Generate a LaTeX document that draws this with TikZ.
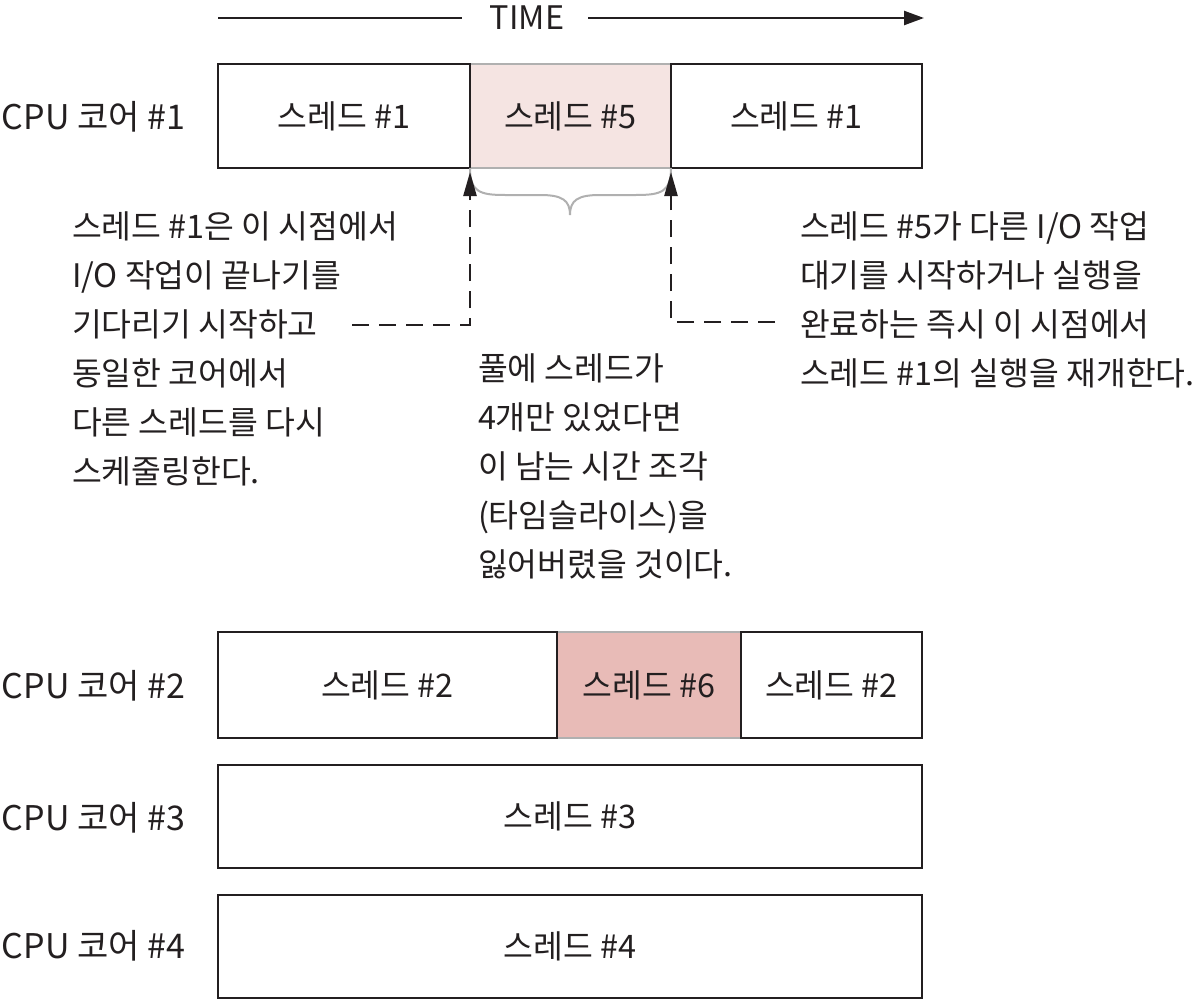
\documentclass[tikz,border=0pt]{standalone}
\usepackage{fontspec}
\setmainfont{Noto Sans CJK KR}
\usetikzlibrary{arrows.meta}
\definecolor{ink}{HTML}{231F20}
\definecolor{pinkA}{HTML}{F5E4E2}
\definecolor{pinkB}{HTML}{E8BBB7}
\definecolor{edgegray}{HTML}{B0B0B0}
\tikzset{
  every node/.style={text=ink, font=\fontsize{16.2pt}{24.5pt}\selectfont, inner sep=0pt, outer sep=0pt},
  blk/.style={draw=ink, line width=1.4pt, fill=white},
  gblk/.style={draw=edgegray, line width=1pt},
  note/.style={align=left, anchor=north west},
  rowlab/.style={anchor=west, font=\fontsize{17pt}{20pt}\selectfont},
  dasharrow/.style={draw=ink, line width=1.2pt, dash pattern=on 8.5pt off 5pt, -{Triangle[length=12pt,width=6.5pt]}},
  timearrow/.style={draw=ink, line width=1.2pt},
}
\begin{document}
\begin{tikzpicture}[x=0.5pt,y=-0.5pt]
\useasboundingbox (0,0) rectangle (1200,1001);
% TIME axis
\node (time) at (527,18) {TIME};
\coordinate (tstart) at (218,18);
\coordinate (tend) at (924,18);
\draw[timearrow] (tstart) -- ([xshift=-14pt]time.west);
\draw[timearrow, -{Triangle[length=10pt,width=7pt]}] ([xshift=12pt]time.east) -- (tend);
% row 1
\node[rowlab] (c1) at (2,117) {CPU 코어 \#1};
\node[gblk, fill=pinkA, minimum width=100.5pt, minimum height=52pt] (t5) at (570.5,116) {스레드 \#5};
\node[blk, minimum width=126pt, minimum height=52pt] (t1a) at (344,116) {스레드 \#1};
\node[blk, minimum width=125.5pt, minimum height=52pt] (t1b) at (796.5,116) {스레드 \#1};
% brace
\draw[edgegray, line width=1pt] (t5.south west) .. controls (470,192) and (480,195) .. (505,195) -- (540,195) .. controls (562,195) and (570,200) .. (570,215)
  .. controls (570,200) and (578,195) .. (600,195) -- (636,195) .. controls (661,195) and (671,192) .. (t5.south east);
% notes
\node[note] (nl) at (72,212) {스레드 \#1은 이 시점에서\\I/O 작업이 끝나기를\\기다리기 시작하고\\동일한 코어에서\\다른 스레드를 다시\\스케줄링한다.};
\node[note] (nr) at (800,212) {스레드 \#5가 다른 I/O 작업\\대기를 시작하거나 실행을\\완료하는 즉시 이 시점에서\\스레드 \#1의 실행을 재개한다.};
\node[note] (nm) at (478,354) {풀에 스레드가\\4개만 있었다면\\이 남는 시간 조각\\(타임슬라이스)을\\잃어버렸을 것이다.};
\coordinate (la) at (352,325);
\coordinate (ra) at (775,322);
\draw[dasharrow] (la) -| ([yshift=-2pt]t5.south west);
\draw[dasharrow] (ra) -| ([yshift=-2pt]t5.south east);
% row 2
\node[rowlab] (c2) at (2,686) {CPU 코어 \#2};
\node[gblk, fill=pinkB, minimum width=92pt, minimum height=53pt] (t6) at (649,685) {스레드 \#6};
\node[blk, minimum width=169.5pt, minimum height=53pt] (t2a) at (387.5,685) {스레드 \#2};
\node[blk, minimum width=90.5pt, minimum height=53pt] (t2b) at (831.5,685) {스레드 \#2};
% row 3
\node[rowlab] (c3) at (2,818) {CPU 코어 \#3};
\node[blk, minimum width=352pt, minimum height=51.5pt] (t3) at (570,816.5) {스레드 \#3};
% row 4
\node[rowlab] (c4) at (2,946) {CPU 코어 \#4};
\node[blk, minimum width=352pt, minimum height=51.5pt] (t4) at (570,946.5) {스레드 \#4};
\end{tikzpicture}
\end{document}
